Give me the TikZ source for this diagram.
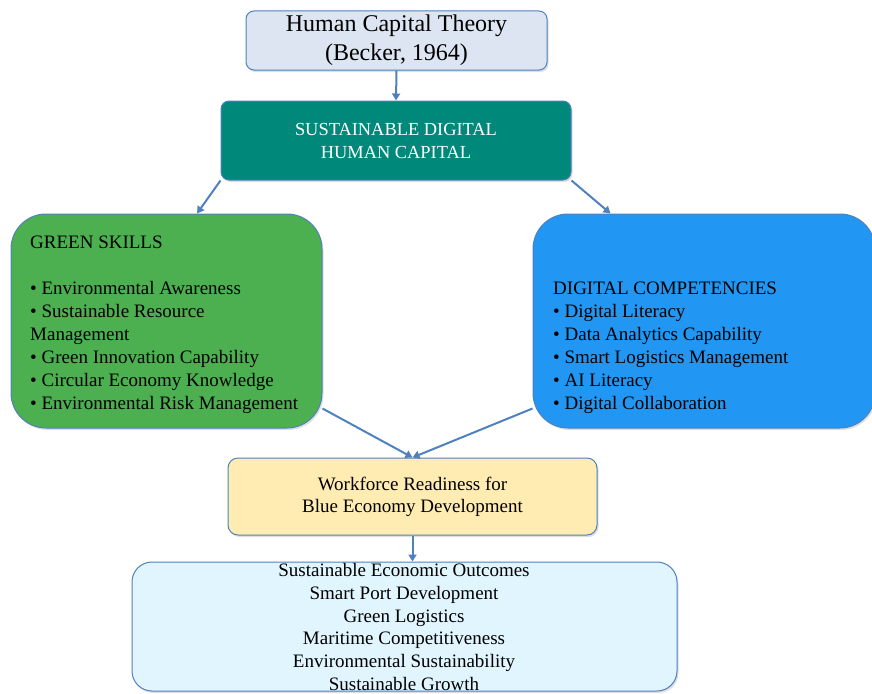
\documentclass[tikz,border=0pt]{standalone}
\usepackage{fontspec}
\setmainfont{Liberation Serif}
\usepackage{xcolor}
\usetikzlibrary{arrows.meta,shadows}

\definecolor{lineblue}{HTML}{4F81BD}
\definecolor{theoryfill}{HTML}{DCE5F1}
\definecolor{tealfill}{HTML}{00897B}
\definecolor{greenfill}{HTML}{4CAF50}
\definecolor{bluefill}{HTML}{2196F3}
\definecolor{yellowfill}{HTML}{FFECB3}
\definecolor{skyfill}{HTML}{E1F5FE}

\begin{document}
\begin{tikzpicture}[x=1pt,y=-1pt]

\tikzset{box/.style={draw=lineblue, line width=1pt, inner sep=0pt, align=center,
   drop shadow={opacity=0.25, shadow xshift=1.5pt, shadow yshift=-2pt}},
listtext/.style={inner sep=0pt, align=left, font=\fontsize{19}{23}\selectfont},
link/.style={draw=lineblue, line width=2pt, -{Triangle[length=7pt,width=8pt]}}}

\useasboundingbox (0,0) rectangle (872,693);

% theory and core concept
\node[box, fill=theoryfill, minimum width=301pt, minimum height=59pt, rounded corners=8pt,
   font=\fontsize{24}{29}\selectfont] (theory) at (396.5,40.5) {Human Capital Theory\\(Becker, 1964)};
\node[box, fill=tealfill, text=white, minimum width=350pt, minimum height=79pt, rounded corners=8pt,
   font=\fontsize{18.4}{23}\selectfont] (sdhc) at (396,140.5) {SUSTAINABLE DIGITAL\\HUMAN CAPITAL};

% the two dimensions
\node[box, fill=greenfill, minimum width=311pt, minimum height=214pt, rounded corners=35pt] (green) at (166.5,321) {};
\node[listtext, anchor=north west] (greenlist) at (30,235.5) {GREEN SKILLS\\[23pt]
   • Environmental Awareness\\
   • Sustainable Resource\\
   Management\\
   • Green Innovation Capability\\
   • Circular Economy Knowledge\\
   • Environmental Risk Management};

\node[box, fill=bluefill, minimum width=342pt, minimum height=214pt, rounded corners=35pt] (digital) at (704,321) {};
\node[listtext, anchor=north west] (digitallist) at (553,281.5) {DIGITAL COMPETENCIES\\
   • Digital Literacy\\
   • Data Analytics Capability\\
   • Smart Logistics Management\\
   • AI Literacy\\
   • Digital Collaboration};

% readiness and outcomes
\node[box, fill=yellowfill, minimum width=369pt, minimum height=77pt, rounded corners=10pt,
   font=\fontsize{19}{22}\selectfont] (readiness) at (412.5,496.5) {Workforce Readiness for\\Blue Economy Development};

\node[box, fill=skyfill, minimum width=545pt, minimum height=129pt, rounded corners=20pt] (outcomesbox) at (404.5,626.5) {};
\node[inner sep=0pt, align=center, font=\fontsize{19}{22.8}\selectfont] (outcomes) at (404,627) {Sustainable Economic Outcomes\\
   Smart Port Development\\
   Green Logistics\\
   Maritime Competitiveness\\
   Environmental Sustainability\\
   Sustainable Growth};

\draw[link] (theory.south) -- (sdhc.north);
\draw[link] (sdhc.south west) -- ([xshift=30.5pt]green.north);
\draw[link] (sdhc.south east) -- ([xshift=78pt]digital.north west);
\draw[link] ([yshift=20pt]green.south east) -- (readiness.north);
\draw[link] ([yshift=20pt]digital.south west) -- (readiness.north);
\draw[link] (readiness.south) -- (readiness.south |- outcomesbox.north);

\end{tikzpicture}
\end{document}
